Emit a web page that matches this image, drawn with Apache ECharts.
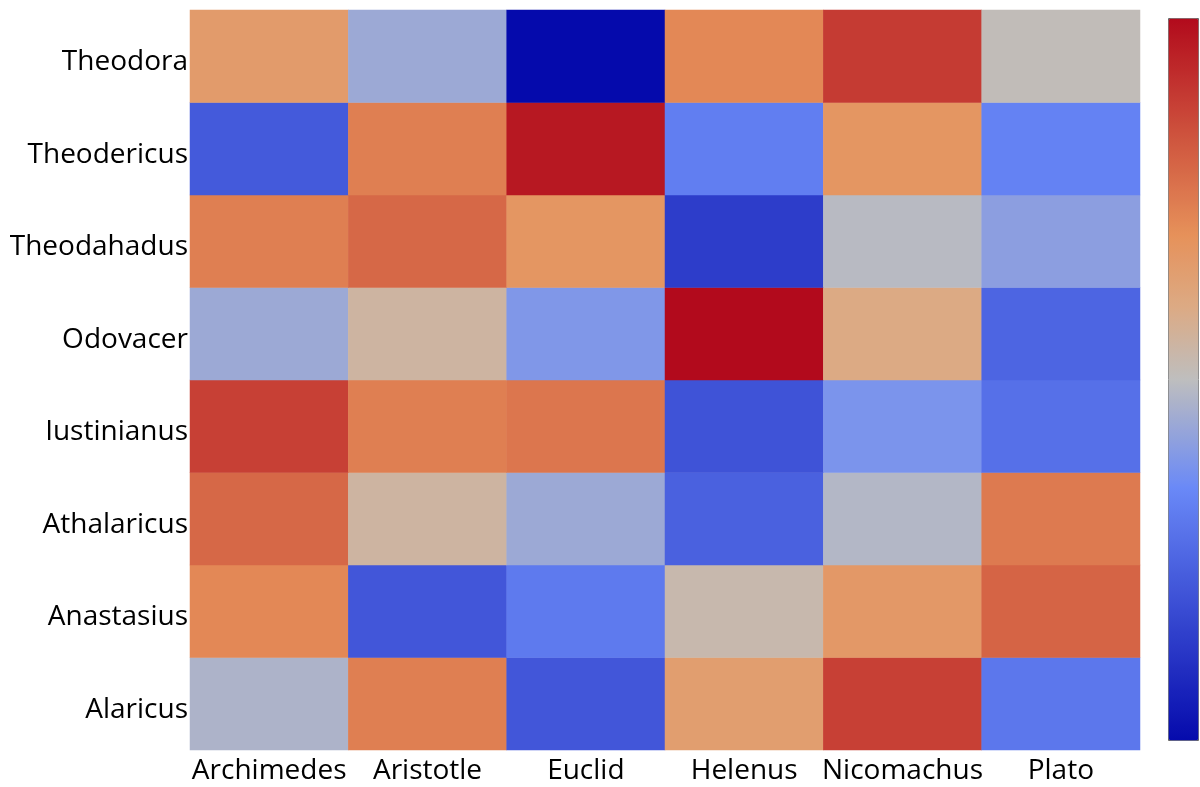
<!DOCTYPE html>
<html>
<head>
<meta charset="utf-8">
<script src="https://cdn.jsdelivr.net/npm/echarts@6/dist/echarts.min.js"></script>
<style>html,body{margin:0;padding:0;background:#fff}#c{width:1200px;height:787px}</style>
</head>
<body>
<div id="c"></div>
<script>
// Data
var columns = ['Archimedes', 'Aristotle', 'Euclid', 'Helenus', 'Nicomachus', 'Plato'];
var rows = ['Alaricus', 'Anastasius', 'Athalaricus', 'Iustinianus', 'Odovacer', 'Theodahadus', 'Theodericus', 'Theodora'];
var Alaricus    = [0.47, 0.74, 0.21, 0.65, 0.88, 0.30];
var Anastasius  = [0.72, 0.21, 0.31, 0.53, 0.67, 0.80];
var Athalaricus = [0.79, 0.55, 0.44, 0.24, 0.48, 0.75];
var Iustinianus = [0.88, 0.74, 0.76, 0.20, 0.38, 0.28];
var Odovacer    = [0.44, 0.55, 0.39, 1.00, 0.60, 0.25];
var Theodahadus = [0.74, 0.79, 0.68, 0.14, 0.49, 0.41];
var Theodericus = [0.22, 0.74, 0.97, 0.32, 0.68, 0.33];
var Theodora    = [0.66, 0.44, 0.00, 0.72, 0.89, 0.51];
var rowValues = [Alaricus, Anastasius, Athalaricus, Iustinianus, Odovacer, Theodahadus, Theodericus, Theodora];

// colour scale stops (style)
var stops = [[0, [5,10,172]], [0.35, [106,137,247]], [0.5, [190,190,190]], [0.6, [220,170,132]], [0.7, [230,145,90]], [1, [178,10,28]]];
function scaleColor(t) {
  for (var i = 0; i < stops.length - 1; i++) {
    var a = stops[i], b = stops[i + 1];
    if (t <= b[0] + 1e-9) {
      var f = (t - a[0]) / (b[0] - a[0]);
      var c = a[1].map(function (v, k) { return Math.round(v + (b[1][k] - v) * f); });
      return 'rgb(' + c.join(',') + ')';
    }
  }
  return 'rgb(178,10,28)';
}
var palette = [];
for (var i = 0; i <= 100; i++) palette.push(scaleColor(i / 100));

var data = [];
rowValues.forEach(function (arr, y) {
  arr.forEach(function (v, x) { data.push([x, y, v]); });
});

var chart = echarts.init(document.getElementById('c'), null, {renderer: 'canvas'});
chart.setOption({
  backgroundColor: '#fff',
  animation: false,
  grid: {left: 190, right: 60, top: 10, bottom: 37},
  xAxis: {
    type: 'category', data: columns,
    axisLine: {show: false}, axisTick: {show: false}, splitArea: {show: false},
    axisLabel: {interval: 0, fontFamily: 'Open Sans', fontSize: 28, color: '#000', margin: 7}
  },
  yAxis: {
    type: 'category', data: rows,
    axisLine: {show: false}, axisTick: {show: false}, splitArea: {show: false},
    axisLabel: {
      interval: 0, margin: 2,
      formatter: '{a|{value}}',
      rich: {a: {fontFamily: 'Open Sans', fontSize: 28, color: '#000', padding: [12, 0, 0, 0]}}
    }
  },
  visualMap: {
    type: 'continuous', min: 0, max: 1, calculable: false,
    orient: 'vertical', right: 1, top: 18,
    itemWidth: 30, itemHeight: 722,
    padding: 0, borderWidth: 1, borderColor: '#666',
    showLabel: false, text: null,
    inRange: {color: palette},
    textStyle: {fontSize: 0}
  },
  series: [{
    type: 'heatmap', data: data,
    itemStyle: {borderWidth: 0},
    emphasis: {disabled: true}
  }]
});
</script>
</body>
</html>
